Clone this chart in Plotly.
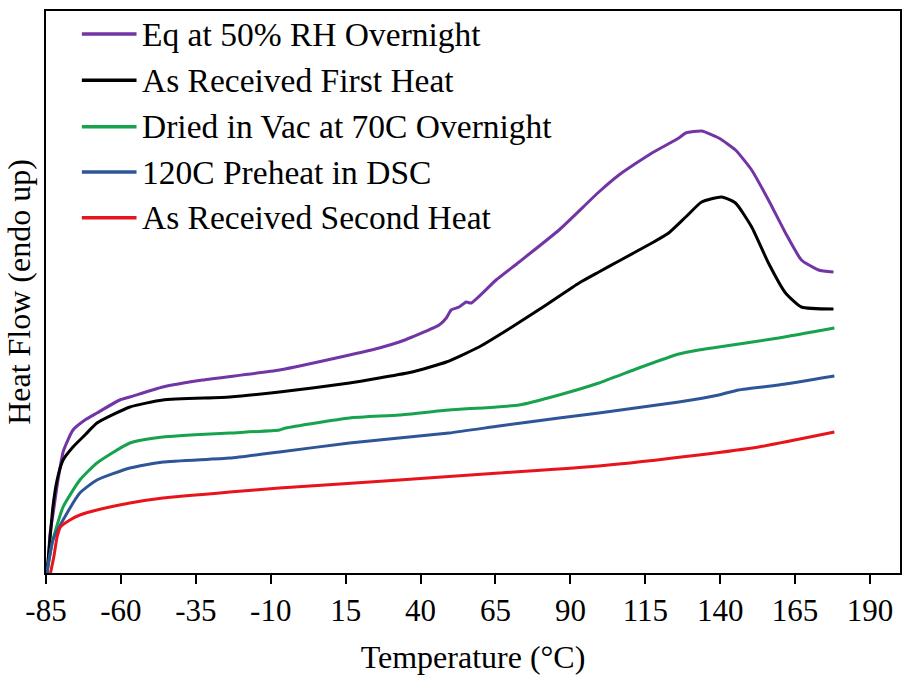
import plotly.graph_objects as go

# Temperature (deg C) and heat flow (arbitrary units, endo up)
eq_T = [-84.7, -84.2, -83.7, -82.6, -81.0, -79.2, -76.0, -72.0, -68.0, -60.4, -57.0, -46.0, -32.7, -7.1, 16.3,
        26.2, 32.9, 37.2, 46.2, 48.6, 50.2, 52.9, 55.2, 56.9, 65.2, 72.9, 86.2, 99.5, 106.2, 117.2, 126.2,
        128.5, 133.8, 139.5, 145.1, 150.5, 156.1, 161.8, 167.1, 172.8, 177.8]
eq_Q = [0.00, 0.13, 0.38, 0.60, 0.93, 1.22, 1.43, 1.53, 1.60, 1.73, 1.76, 1.86, 1.93, 2.03, 2.18,
        2.25, 2.31, 2.36, 2.48, 2.55, 2.63, 2.66, 2.71, 2.70, 2.93, 3.11, 3.43, 3.81, 3.98, 4.20, 4.35,
        4.40, 4.42, 4.35, 4.23, 4.03, 3.73, 3.40, 3.13, 3.03, 3.01]

ar1_T = [-84.7, -84.3, -83.7, -82.7, -81.3, -79.3, -76.0, -72.0, -68.0, -57.0, -46.0, -23.7, -7.1, 16.3, 26.2,
         37.2, 48.6, 59.5, 70.5, 81.9, 92.9, 99.5, 106.2, 117.2, 122.8, 128.5, 133.8, 140.5, 145.1, 150.5,
         156.1, 161.8, 167.1, 177.8]
ar1_Q = [0.00, 0.13, 0.33, 0.66, 0.93, 1.13, 1.26, 1.38, 1.50, 1.66, 1.73, 1.76, 1.81, 1.90, 1.95,
         2.01, 2.11, 2.26, 2.46, 2.68, 2.90, 3.01, 3.12, 3.30, 3.40, 3.56, 3.71, 3.76, 3.70, 3.46,
         3.10, 2.80, 2.66, 2.64]

dry_T = [-84.7, -82.7, -79.3, -73.7, -68.0, -57.0, -46.0, -23.7, -7.1, -5.0, 16.3, 32.9, 49.5, 72.9, 86.2,
         99.5, 112.8, 126.2, 132.8, 139.5, 159.5, 178.1]
dry_Q = [0.00, 0.33, 0.66, 0.93, 1.10, 1.30, 1.36, 1.40, 1.43, 1.45, 1.55, 1.58, 1.63, 1.68, 1.78,
         1.90, 2.05, 2.19, 2.23, 2.26, 2.35, 2.45]

pre_T = [-84.7, -82.7, -79.3, -73.7, -68.0, -57.0, -46.0, -23.7, -7.1, 16.3, 49.5, 66.2, 86.2, 99.5,
         126.2, 139.5, 146.1, 159.5, 178.1]
pre_Q = [0.00, 0.33, 0.53, 0.80, 0.93, 1.05, 1.11, 1.15, 1.21, 1.30, 1.40, 1.47, 1.55, 1.60,
         1.71, 1.78, 1.83, 1.88, 1.97]

ar2_T = [-83.5, -82.4, -81.3, -80.2, -77.0, -73.7, -68.0, -57.0, -46.0, -23.7, -7.1, 32.9, 66.2, 99.5,
         132.8, 152.8, 178.1]
ar2_Q = [0.00, 0.16, 0.36, 0.46, 0.53, 0.58, 0.63, 0.70, 0.75, 0.81, 0.85, 0.93, 1.00, 1.07,
         1.18, 1.26, 1.41]

names = ["Eq at 50% RH Overnight", "As Received First Heat", "Dried in Vac at 70C Overnight",
         "120C Preheat in DSC", "As Received Second Heat"]
colors = ["#7135A5", "#000000", "#17A24E", "#2E5597", "#E8141C"]
xs = [eq_T, ar1_T, dry_T, pre_T, ar2_T]
ys = [eq_Q, ar1_Q, dry_Q, pre_Q, ar2_Q]
x_ticks = [-85, -60, -35, -10, 15, 40, 65, 90, 115, 140, 165, 190]

FONT = "Liberation Serif, Times New Roman, serif"

fig = go.Figure()
for n, c, x, y in zip(names, colors, xs, ys):
    fig.add_trace(go.Scatter(x=x, y=y, mode="lines", name=n, showlegend=False,
                             line=dict(color=c, width=3, shape="spline", smoothing=0.5)))

# manual legend (longer line samples as in the original)
row_y = [0.959, 0.877, 0.794, 0.7135, 0.632]
for n, c, ry in zip(names, colors, row_y):
    fig.add_shape(type="line", xref="paper", yref="paper", x0=0.042, x1=0.106, y0=ry, y1=ry,
                  line=dict(color=c, width=3.5))
    fig.add_annotation(xref="paper", yref="paper", x=0.110, y=ry, text=n, showarrow=False,
                       xanchor="left", yanchor="middle", font=dict(family=FONT, size=33.5, color="black"))

fig.update_layout(
    width=904, height=676,
    margin=dict(l=46, r=2, t=11, b=103),
    paper_bgcolor="white", plot_bgcolor="white",
    font=dict(family=FONT, size=31, color="black"),
    showlegend=False,
)
fig.update_xaxes(range=[-85, 200], tickmode="array", tickvals=x_ticks, ticktext=[str(v) for v in x_ticks],
                 ticks="outside", ticklen=9, tickwidth=2, tickcolor="black",
                 showline=True, linecolor="black", linewidth=2, mirror=True, showgrid=False, zeroline=False,
                 tickfont=dict(family=FONT, size=31),
                 title=dict(text="Temperature (°C)", font=dict(family=FONT, size=32), standoff=18))
fig.update_yaxes(range=[0, 5.62], showticklabels=False, ticks="",
                 showline=True, linecolor="black", linewidth=2, mirror=True, showgrid=False, zeroline=False,
                 title=dict(text="Heat Flow (endo up)", font=dict(family=FONT, size=32), standoff=4))

fig.write_html("out.html")
